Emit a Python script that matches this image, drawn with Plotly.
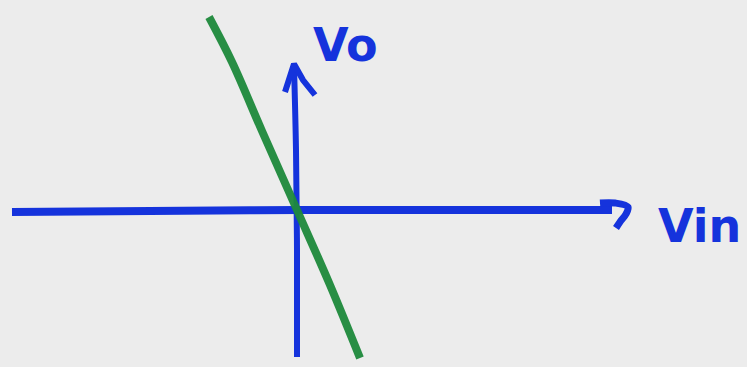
import plotly.graph_objects as go

# Hand-sketched transfer curve of an inverting amplifier (Vo vs Vin)
# Coordinates are in sketch units: x to the right, y downward.

# Green transfer line (inverting, steep negative slope through origin)
line_x = [209, 232, 262, 297, 330, 360]
line_y = [17, 62, 131, 210, 285, 358]

# Horizontal axis (Vin) with hooked arrow head
vin_axis_x = [12, 150, 300, 450, 612]
vin_axis_y = [212, 211, 210, 210, 210]
vin_head_x = [600, 615, 628, 626, 620, 616]
vin_head_y = [203, 203, 207, 214, 222, 228]

# Vertical axis (Vo) with arrow head
vo_axis_x = [297, 297, 296, 294]
vo_axis_y = [357, 250, 150, 66]
vo_head_x = [285, 290, 294, 303, 315]
vo_head_y = [92, 78, 64, 80, 95]

labels = ["Vo", "Vin"]
label_x = [345, 699]
label_y = [45, 226]

BLUE = "#1533dc"
GREEN = "#1e8a3c"

fig = go.Figure()

fig.add_trace(go.Scatter(x=vin_axis_x, y=vin_axis_y, mode="lines",
                         line=dict(color=BLUE, width=8, shape="spline"),
                         hoverinfo="skip"))
fig.add_trace(go.Scatter(x=vin_head_x, y=vin_head_y, mode="lines",
                         line=dict(color=BLUE, width=7, shape="spline"),
                         hoverinfo="skip"))
fig.add_trace(go.Scatter(x=vo_axis_x, y=vo_axis_y, mode="lines",
                         line=dict(color=BLUE, width=6, shape="spline"),
                         hoverinfo="skip"))
fig.add_trace(go.Scatter(x=vo_head_x, y=vo_head_y, mode="lines",
                         line=dict(color=BLUE, width=6),
                         hoverinfo="skip"))
fig.add_trace(go.Scatter(x=line_x, y=line_y, mode="lines",
                         line=dict(color=GREEN, width=8, shape="spline"),
                         opacity=0.95, hoverinfo="skip"))

for txt, tx, ty in zip(labels, label_x, label_y):
    fig.add_annotation(x=tx, y=ty, xref="x", yref="y", text=f"<b>{txt}</b>",
                       showarrow=False,
                       font=dict(family="DejaVu Sans", size=46, color=BLUE))

fig.update_layout(
    width=747, height=367,
    margin=dict(l=0, r=0, t=0, b=0),
    paper_bgcolor="#ececec", plot_bgcolor="#ececec",
    showlegend=False,
    xaxis=dict(range=[0, 747], visible=False, fixedrange=True),
    yaxis=dict(range=[367, 0], visible=False, fixedrange=True),
)

fig.write_html("out.html")
